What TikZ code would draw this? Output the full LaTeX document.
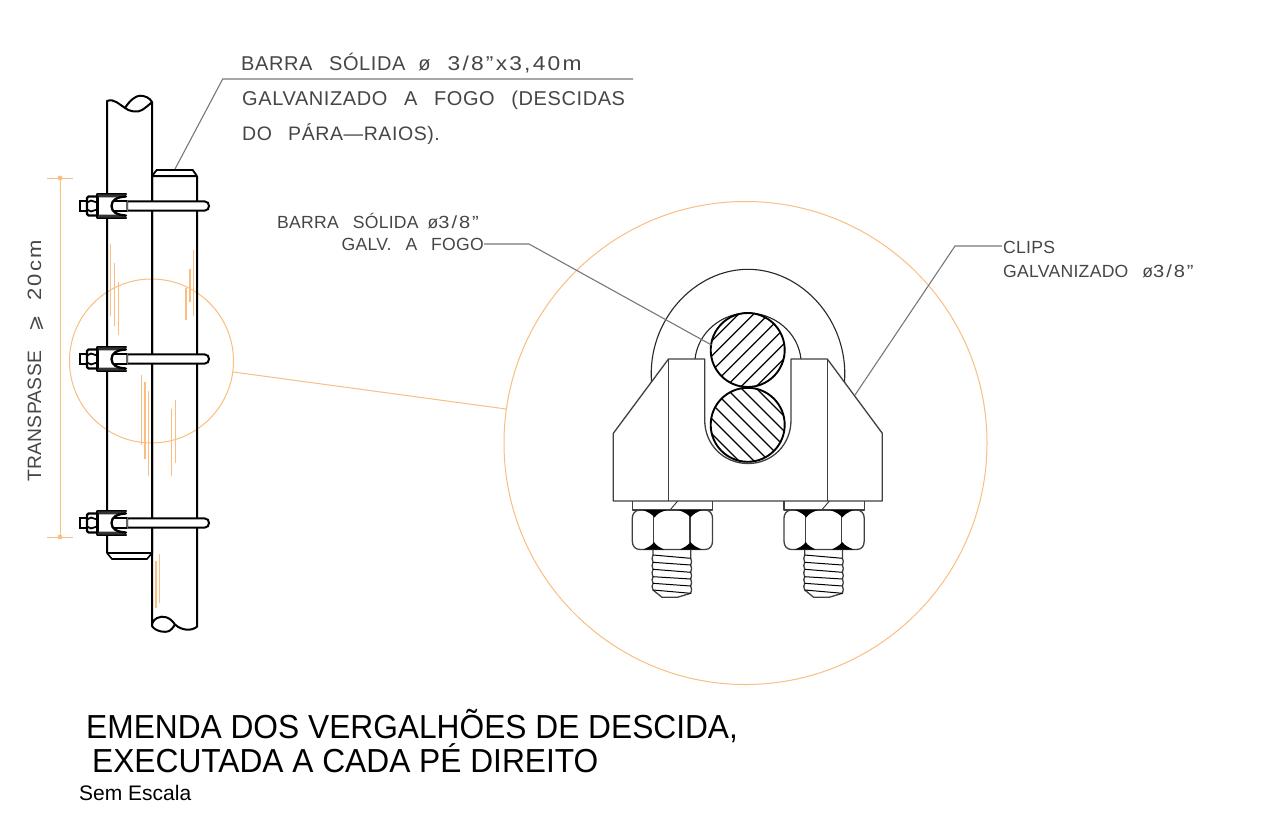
\documentclass[tikz,border=0pt]{standalone}
\usepackage{fontspec}
\setmainfont{Liberation Sans}
\newfontfamily\cadfont[LetterSpace=3,WordSpace=2.7]{Liberation Sans}
\newfontfamily\cadfontB[LetterSpace=1.5,WordSpace=2.7]{Liberation Sans}
\newfontfamily\cadwide[LetterSpace=11,FakeStretch=1.14]{Liberation Sans}
\newfontfamily\titlefont[FakeStretch=0.952]{Liberation Sans}
\newfontfamily\symfont{DejaVu Sans}
\definecolor{dimorange}{RGB}{250,190,130}
\definecolor{leadergray}{RGB}{120,120,120}
\definecolor{cadtext}{RGB}{70,70,70}
\tikzset{
  pipeline/.style={line width=2pt,black,line join=round},
  clampline/.style={line width=2.3pt,black,line join=round,line cap=round},
  thinline/.style={line width=1.1pt,black!85,line join=round},
  bodyline/.style={line width=1.3pt,black!75,line join=round},
  hatchline/.style={line width=1.2pt,black},
  roundbar/.style={line width=1.9pt,black},
  orangeline/.style={line width=1pt,dimorange},
  scribble/.style={line width=1.2pt,dimorange},
  leader/.style={line width=1.1pt,leadergray},
  cadA/.style={anchor=base west,inner sep=0pt,text=cadtext,font=\fontsize{20}{22}\cadfont},
  cadB/.style={anchor=base west,inner sep=0pt,text=cadtext,font=\fontsize{17.6}{20}\cadfontB},
  titletext/.style={anchor=base west,inner sep=0pt,text=black,font=\fontsize{33.3}{36}\titlefont},
}
\newcommand{\leftclamp}[1]{%
\begin{scope}[shift={(0,#1)}]
  \draw[line width=2pt,fill=white] (127,-4.7) -- (204.5,-4.7) .. controls (210.5,-4.7) and (210.5,4.7) .. (204.5,4.7) -- (127,4.7) -- cycle;
  \fill[white] (97.5,-11.7) rectangle (127,11.7);
  \draw[line width=1.4pt,black!60] (127,-4.7) -- (127,4.7);
  \draw[line width=1.8pt] (113,-4.7) -- (127,-4.7) (113,4.7) -- (127,4.7);
  \draw[clampline] (126,-11.7) -- (97.5,-11.7) -- (97.5,11.7) -- (126,11.7);
  \fill[black!80] (97.5,-11.7) -- (126,-11.7) -- (126,-9.6) .. controls (118,-8.6) and (117,-9) .. (114,-8.6) -- (97.5,-8.6) -- cycle;
  \fill[black!80] (97.5,11.7) -- (126,11.7) -- (126,9.6) .. controls (118,8.6) and (117,9) .. (114,8.6) -- (97.5,8.6) -- cycle;
  \draw[clampline] (126,-9.5) .. controls (117,-9) and (111.5,-6) .. (111.5,0) .. controls (111.5,6) and (117,9) .. (126,9.5);
  \draw[clampline] (97.5,-9.5) -- (88.5,-9.5) -- (87,-8) -- (87,8) -- (88.5,9.5) -- (97.5,9.5);
  \draw[line width=1.8pt] (87,-3.6) -- (91,-5.4) -- (97,-3.6) (87,3.6) -- (91,5.4) -- (97,3.6);
  \draw[line width=2pt] (87,-4.7) -- (80,-4.7) -- (80,4.7) -- (87,4.7);
\end{scope}}
\newcommand{\rightbolt}[1]{%
\begin{scope}[shift={(#1,0)}]
  % washer
  \draw[bodyline] (632.3,501) -- (632.3,510) -- (712.7,510) -- (712.7,501);
  \draw[line width=0.9pt,black!80] (670,510) -- (677.7,501);
  % nut
  \draw[bodyline] (640,510) -- (705,510) .. controls (710,510) and (712.5,514) .. (712.5,518) -- (712.5,541) .. controls (712.5,546) and (710,549.5) .. (705,549.5) -- (640,549.5) .. controls (635,549.5) and (632.3,546) .. (632.3,541) -- (632.3,518) .. controls (632.3,514) and (635,510) .. (640,510) -- cycle;
  \draw[bodyline] (653.5,516) -- (653.5,543) (690,516) -- (690,543);
  \fill[black] (643,510) -- (667,510) .. controls (660,512) and (657,514) .. (654.5,517.5) .. controls (652,514) and (648,512) .. (643,510) -- cycle;
  \fill[black] (678,510) -- (702,510) .. controls (697,512) and (693,514) .. (690.5,517.5) .. controls (688,514) and (684,512) .. (678,510) -- cycle;
  \fill[black] (643,549.5) -- (664,549.5) .. controls (660,547.5) and (656,545.5) .. (654,542) .. controls (652,545.5) and (648,547.5) .. (643,549.5) -- cycle;
  \fill[black] (680,549.5) -- (702,549.5) .. controls (697,547.5) and (693,545.5) .. (690.5,542) .. controls (688,545.5) and (684,547.5) .. (680,549.5) -- cycle;
  % threaded end
  \draw[bodyline] (653,549.5) -- (653,555) .. controls (651.8,558) and (651.8,559) .. (653,562.3) .. controls (651.8,565) and (651.8,566) .. (653,569.3) .. controls (651.8,572) and (651.8,573) .. (653,576.7) .. controls (651.8,579) and (651.8,580) .. (653,583.3) .. controls (651.8,586) and (651.8,587) .. (653,590) -- (662,597.3) -- (677.3,597.3) -- (690.7,593.3)
    .. controls (691.9,590) and (691.9,589) .. (690.7,586) .. controls (691.9,583) and (691.9,582) .. (690.7,579) .. controls (691.9,576) and (691.9,575) .. (690.7,572.3) .. controls (691.9,569) and (691.9,568) .. (690.7,565) .. controls (691.9,562) and (691.9,561) .. (690.7,558.3) -- (690.7,549.5);
  \draw[line width=1pt] (653,555) -- (690.7,558.3) (653,562.3) -- (690.7,565) (653,569.3) -- (690.7,572.3) (653,576.7) -- (690.7,579) (653,583.3) -- (690.7,586) (653,590) -- (690.7,593.3);
\end{scope}}
\begin{document}
\begin{tikzpicture}[x=1pt,y=-1pt]
\useasboundingbox (0,0) rectangle (1261,827);
\fill[white] (0,0) rectangle (1261,827);

% ---- orange construction
\draw[orangeline] (151.5,361) circle (82);
\draw[orangeline] (745.5,443) circle (241.5);
\coordinate (detailA) at (233.2,372);
\coordinate (detailB) at (506,409);
\draw[orangeline] (detailA) -- (detailB);
\coordinate (dimT) at (60,178);
\coordinate (dimB) at (60,537);
\draw[orangeline] (dimT) -- (dimB);
\draw[orangeline] (47,178) -- (73,178) (47,537) -- (73,537);
\fill[dimorange] (dimT) circle (2.4) (dimB) circle (2.4);
\draw[scribble]
  (110.7,244) -- (110.7,316) (114.7,263) -- (114.7,326) (118.3,282) -- (118.3,335)
  (186,288) -- (186,320) (190,269) -- (190,302) (193.3,250) -- (193.3,316)
  (141.7,375) -- (141.7,445) (145,382) -- (145,459) (148.7,391) -- (148.7,476)
  (171.7,409) -- (171.7,476) (175.7,400) -- (175.7,463)
  (156,561) -- (156,608) (159.7,554) -- (159.7,603);

% ---- left elevation: two bars
\draw[pipeline] (107,553) -- (107,101) .. controls (114,98) and (120,105) .. (125,108) .. controls (129,111.5) and (138,113) .. (142,110) .. controls (146,107.5) and (150,104) .. (152,102) -- (152,553);
\draw[pipeline] (125,108) .. controls (130,100) and (136,95.7) .. (140,95.7) .. controls (145,95.7) and (150,98) .. (152,102);
\draw[pipeline] (107,553) -- (152,553);
\draw[line width=1.6pt] (107,553) -- (112,559) -- (147,559) -- (152,553);
\draw[pipeline] (152,176) -- (197,176) (197,176) -- (197,626.7) .. controls (192,631) and (182,631) .. (175,624.5) .. controls (170,617) and (163,615) .. (157,618) .. controls (154,620) and (152,622) .. (152,626) -- (152,176);
\draw[pipeline] (152,626) .. controls (155,631) and (165,633.5) .. (170,630.5) .. controls (173,628) and (174,626) .. (175,624.5);
\draw[line width=1.8pt] (152,176) -- (156.7,170) -- (192.7,170) -- (197,176);

\leftclamp{206}
\leftclamp{359}
\leftclamp{523}

% ---- right detail: U bolt
\draw[thinline] (651.5,382) .. controls (647,320) and (695,269.3) .. (748,269.3) .. controls (801,269.3) and (849,320) .. (844.5,382);
\draw[thinline] (695,359) .. controls (698,332) and (722,313) .. (748,313) .. controls (774,313) and (798,332) .. (801,359);

% clip body
\draw[bodyline] (613.3,433.3) -- (668.5,359) -- (704.7,359) -- (704.7,420) .. controls (704.7,445) and (724,463.5) .. (748,463.5) .. controls (772,463.5) and (791,445) .. (791,420) -- (791,359) -- (827.3,359) -- (882.3,433.3) -- (882.3,501) -- (613.3,501) -- cycle;
\draw[bodyline] (668.5,359) -- (668.5,501) (827.3,359) -- (827.3,501);

% solid bars
\begin{scope}
  \clip (747.7,350) circle (37);
  \foreach \k in {-4,...,4} {
    \draw[hatchline] (747.7+\k*15-50,400) -- (747.7+\k*15+50,300);
  }
\end{scope}
\begin{scope}
  \clip (747.7,424.8) circle (37);
  \foreach \k in {-4,...,4} {
    \draw[hatchline] (747.7+\k*15-50,374.8) -- (747.7+\k*15+50,474.8);
  }
\end{scope}
\draw[roundbar] (747.7,350) circle (37);
\draw[roundbar] (747.7,424.8) circle (37);

\rightbolt{0}
\rightbolt{151.7}

% ---- leaders
\coordinate (lA1) at (175,169);
\coordinate (lA2) at (222.7,79);
\coordinate (lA3) at (633,79);
\draw[leader] (lA1) -- (lA2) -- (lA3);
\coordinate (lB1) at (484,244);
\coordinate (lB2) at (529,244);
\coordinate (lB3) at (711.5,345);
\draw[leader] (lB1) -- (lB2) -- (lB3);
\coordinate (lC1) at (855,395);
\coordinate (lC2) at (955,246);
\coordinate (lC3) at (1002,246);
\draw[leader] (lC1) -- (lC2) -- (lC3);

% ---- texts
\node[cadA] (t1) at (241,70.5) {BARRA SÓLIDA\hspace{13pt}ø\hspace{17pt}{\cadwide 3/8”x3,40m}};
\node[cadA] (t2) at (242,105.5) {GALVANIZADO A FOGO (DESCIDAS};
\node[cadA,font=\fontsize{19.5}{22}\cadfont] (t3) at (242,140) {DO PÁRA—RAIOS).};
\node[cadB] (t4) at (277,228.5) {BARRA SÓLIDA\hspace{9pt}ø{\cadwide 3/8”}};
\node[cadB,anchor=base east] (t5) at (484,250) {GALV. A FOGO};
\node[cadB] (t6) at (1003,253.5) {CLIPS};
\node[cadB] (t7) at (1003,277) {GALVANIZADO\hspace{14pt}ø{\cadwide 3/8”}};
\node[cadA,rotate=90,font=\fontsize{19.3}{22}\cadfontB] (t8) at (41,482) {TRANSPASSE\hspace{19pt}{\symfont ⩾}\hspace{15pt}{\cadwide 20cm}};
\node[titletext] (t9) at (86,738) {EMENDA DOS VERGALHÕES DE DESCIDA,};
\node[titletext] (t10) at (92,772) {EXECUTADA A CADA PÉ DIREITO};
\node[anchor=base west,inner sep=0pt,font=\fontsize{21}{24}\selectfont] (t11) at (79,800) {Sem Escala};
\end{tikzpicture}
\end{document}
